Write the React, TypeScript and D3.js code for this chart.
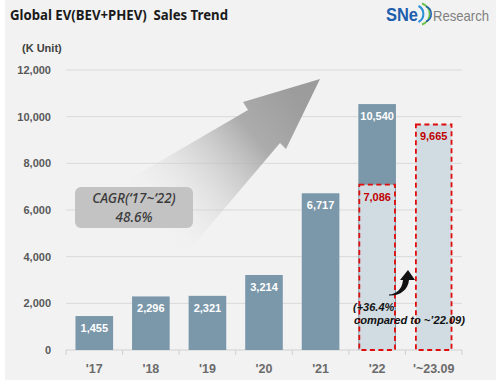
import React from 'react';
import * as d3 from 'd3';

const years = ["'17", "'18", "'19", "'20", "'21", "'22", "'~23.09"];
const sales = [1455, 2296, 2321, 3214, 6717, 10540, 9665];
// portion of each year counted up to September (only '22 and '23 shown)
const ytdSales = [null, null, null, null, null, 7086, 9665];
const yTicks = [0, 2000, 4000, 6000, 8000, 10000, 12000];

const W = 496;
const H = 389;
const margin = { top: 70, right: 34, bottom: 39, left: 66 };

const App: React.FC = () => {
  const x = d3.scaleBand<string>()
    .domain(years)
    .range([margin.left, W - margin.right])
    .paddingInner(0.335)
    .paddingOuter(0.1675);

  const y = d3.scaleLinear()
    .domain([0, 12000])
    .range([H - margin.bottom, margin.top]);

  const fmt = d3.format(',');
  const step = x.step();
  const edges = years.map((_, i) => margin.left + i * step).concat([W - margin.right]);

  const dark = '#7b98aa';
  const light = '#d0dbe2';
  const red = '#e00b0b';

  return (
    <svg width={W} height={H} style={{ position: 'absolute', left: 0, top: 0, display: 'block' }}
      fontFamily="'Liberation Sans', Arial, sans-serif">
      <defs>
        <linearGradient id="arrowGrad" gradientUnits="userSpaceOnUse" x1={300} y1={100} x2={150} y2={225}>
          <stop offset="0" stopColor="#9c9c9c" stopOpacity={1} />
          <stop offset="0.3" stopColor="#a8a8a8" stopOpacity={0.95} />
          <stop offset="1" stopColor="#f2f2f2" stopOpacity={0} />
        </linearGradient>
      </defs>
      <rect x={0} y={0} width={W} height={H} fill="#ffffff" />
      <rect x={5} y={0} width={W - 5} height={380} fill="#f2f2f2" />

      {/* title */}
      <text x={10} y={20} fontSize={14} fontWeight="bold" fill="#1a1a1a" style={{ whiteSpace: 'pre' }}
        textLength={218} lengthAdjust="spacingAndGlyphs"
        fontFamily="'Noto Sans', 'Open Sans', sans-serif">Global EV(BEV+PHEV)  Sales Trend</text>

      {/* logo */}
      <g>
        <text x={386} y={21} fontSize={18} fontWeight="bold" fill="#1d5fae" textLength={32}
          lengthAdjust="spacingAndGlyphs">SNe</text>
        <path d="M418.5,6 A9,9 0 0 1 418.5,22" fill="none" stroke="#2b8fd6" strokeWidth={2} />
        <path d="M422,3.5 A11,11 0 0 1 422,24.5" fill="none" stroke="#6cc04a" strokeWidth={2} />
        <path d="M426,6.5 A8,8 0 0 1 426,21.5" fill="none" stroke="#1d5fae" strokeWidth={1.5} />
        <text x={433} y={21} fontSize={15} fill="#7f7f7f" textLength={56}
          lengthAdjust="spacingAndGlyphs">Research</text>
      </g>

      <text x={22} y={52} fontSize={11} fontWeight="bold" fill="#404040">(K Unit)</text>

      {/* grid + y labels */}
      {yTicks.map(t => (
        <g key={t}>
          {t > 0 && (
            <line x1={margin.left} x2={W - margin.right} y1={y(t)} y2={y(t)} stroke="#d9d9d9" strokeWidth={1} />
          )}
          <text x={51} y={y(t) + 4} textAnchor="end" fontSize={11} fontWeight="bold" fill="#595959">
            {fmt(t)}
          </text>
        </g>
      ))}

      {/* x axis */}
      <line x1={margin.left} x2={W - margin.right} y1={y(0)} y2={y(0)} stroke="#d0d0d0" />
      {edges.map((e, i) => (
        <line key={i} x1={e} x2={e} y1={y(0)} y2={y(0) + 5} stroke="#d0d0d0" />
      ))}
      {years.map(d => (
        <text key={d} x={(x(d) ?? 0) + x.bandwidth() / 2} y={373} textAnchor="middle"
          fontSize={12.5} fontWeight="bold" fill="#6b6b6b">{d}</text>
      ))}

      {/* growth arrow */}
      <path d="M320,79 L243,102 L248,110 L85,205 L185,255 L280,143 L286,149 Z" fill="url(#arrowGrad)" />

      {/* bars */}
      {years.map((d, i) => {
        const bx = x(d) ?? 0;
        const bw = x.bandwidth();
        const ytd = ytdSales[i];
        const isYtdOnly = ytd !== null && ytd === sales[i];
        return (
          <g key={d}>
            {!isYtdOnly && (
              <rect x={bx} y={y(sales[i])} width={bw} height={y(0) - y(sales[i])} fill={dark} />
            )}
            {ytd !== null && (
              <rect x={bx + 1} y={y(ytd)} width={bw - 2} height={y(0) - y(ytd)} fill={light}
                stroke={red} strokeWidth={1.8} strokeDasharray="5,3.5" />
            )}
            {!isYtdOnly && (
              <text x={bx + bw / 2} y={y(sales[i]) + 16} textAnchor="middle" fontSize={11}
                fontWeight="bold" fill="#ffffff">{fmt(sales[i])}</text>
            )}
            {ytd !== null && (
              <text x={bx + bw / 2} y={y(ytd) + 16} textAnchor="middle" fontSize={11}
                fontWeight="bold" fill="#c00000">{fmt(ytd)}</text>
            )}
          </g>
        );
      })}

      {/* CAGR box */}
      <rect x={75} y={187} width={118} height={41} rx={6} fill="#c3c3c3" />
      <text x={134} y={203} textAnchor="middle" fontSize={13.5} fontStyle="italic" fontWeight={500} fill="#3a3a3a"
        fontFamily="'Noto Sans', 'Open Sans', sans-serif">{"CAGR(\u201817~\u201822)"}</text>
      <text x={134} y={222} textAnchor="middle" fontSize={13.5} fontStyle="italic" fontWeight={500} fill="#3a3a3a"
        fontFamily="'Noto Sans', 'Open Sans', sans-serif">48.6%</text>

      {/* growth annotation */}
      <path d="M389,294.5 C396,294 402,290 403,280 L400,280 L408,270 L415,280 L409,280 C408,290 400,296 389,295.5 Z"
        fill="#111111" />
      <text x={353} y={311} fontSize={11} fontWeight="bold" fontStyle="italic" fill="#111111">(+36.4%</text>
      <text x={354} y={324} fontSize={11} fontWeight="bold" fontStyle="italic" fill="#111111"
        textLength={111} lengthAdjust="spacingAndGlyphs">{"compared to ~\u201922.09)"}</text>
    </svg>
  );
};

export default App;
